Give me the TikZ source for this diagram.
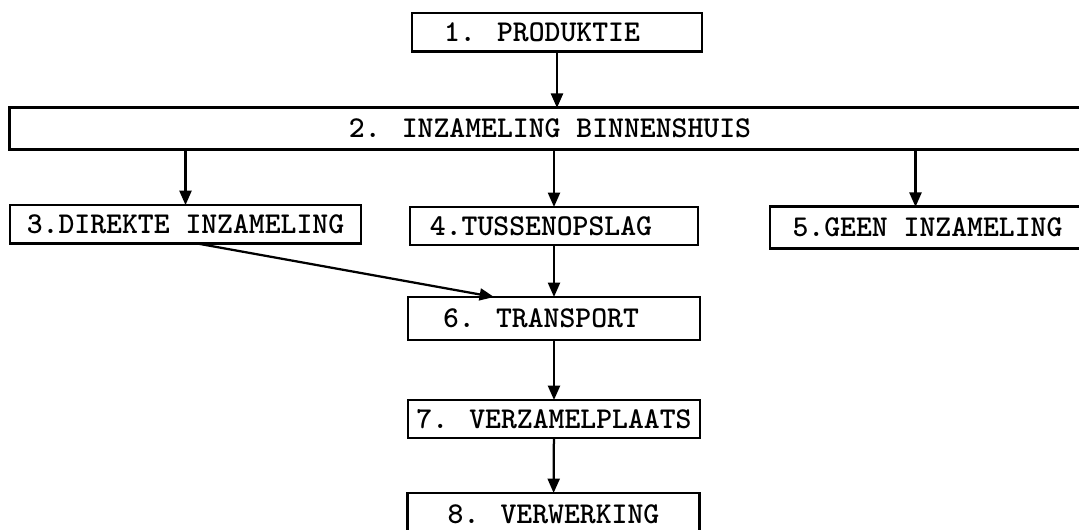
\documentclass[tikz,border=0pt]{standalone}
\usepackage{tikz}
\usetikzlibrary{positioning,arrows.meta}
\tikzset{
  flowarrow/.style={-{Triangle[length=3.6mm,width=3mm]}, line width=1.6pt},
  stagebox/.style={draw, line width=2pt, inner sep=0pt, outer sep=0pt, minimum width=7.3cm, minimum height=0.97cm, align=center},
  widebox/.style={stagebox, minimum width=27cm, minimum height=1.03cm}
}

\begin{document}
\begin{tikzpicture}[x=0.025cm, y=-0.025cm, >=Latex, every node/.style={font=\fontsize{21.5}{25}\selectfont\ttfamily\bfseries}]
  \useasboundingbox (0,0) rectangle (1079,530);
  \node[stagebox, minimum width=7.25cm] (prod) at (557,32.5) {1. PRODUKTIE\hspace*{0.75cm}};
  \node[widebox] (binnen) at (550,128.5) {2. INZAMELING BINNENSHUIS};
  \node[stagebox, minimum width=8.775cm] (direkt) at (185.5,224.5) {3.DIREKTE INZAMELING};
  \node[stagebox, minimum width=7.2cm, minimum height=0.95cm] (tussen) at (554,226) {4.TUSSENOPSLAG\hspace*{0.65cm}};
  \node[stagebox, minimum width=7.875cm, minimum height=1.03cm] (geen) at (927.5,227.5) {5.GEEN INZAMELING};
  \node[stagebox, minimum height=1.075cm] (transp) at (554,318.5) {6. TRANSPORT\hspace*{0.65cm}};
  \node[stagebox, minimum height=0.95cm] (verzamel) at (554,419) {7. VERZAMELPLAATS};
  \node[stagebox, minimum height=1.05cm] (verwerk) at (553.5,514) {8. VERWERKING};
  \coordinate (geenin) at ([xshift=-0.3cm]geen.north);
  % stages
  \draw[flowarrow] (prod.south) -- (prod.south |- binnen.north);
  \draw[flowarrow] (direkt.north |- binnen.south) -- (direkt.north);
  \draw[flowarrow] (tussen.north |- binnen.south) -- (tussen.north);
  \draw[flowarrow] (geenin |- binnen.south) -- (geenin);
  \draw[flowarrow] ([xshift=0.35cm]direkt.south) -- ([xshift=-1.5cm]transp.north);
  \draw[flowarrow] (tussen) -- (transp);
  \draw[flowarrow] (transp) -- (verzamel);
  \draw[flowarrow] (verzamel) -- (verwerk);
\end{tikzpicture}
\end{document}
